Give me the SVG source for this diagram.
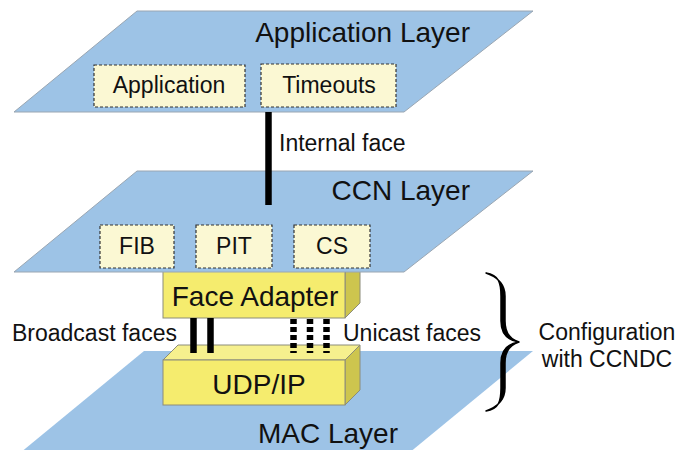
<svg xmlns="http://www.w3.org/2000/svg" width="678" height="450" viewBox="0 0 678 450">
<style>
  .layer { fill: #9dc3e6; stroke: #9aa6b2; stroke-width: 1; }
  .mac { fill: #9dc3e6; stroke: none; }
  .comp { fill: #fbf8d3; stroke: #333; stroke-width: 1.2; stroke-dasharray: 3 2; }
  .front { fill: #f5ec6e; stroke: #8c8c7a; stroke-width: 1; }
  .side { fill: #cdc54e; stroke: #8c8c7a; stroke-width: 1; }
  .top { fill: #f6f08e; stroke: #8c8c7a; stroke-width: 1; }
  text { font-family: "Liberation Sans", Arial, sans-serif; fill: #111; }
  .title { font-size: 28px; }
  .lbl { font-size: 23px; text-anchor: middle; }
  .note { font-size: 23px; }
  .solid { stroke: #000; stroke-width: 6.5; fill: none; }
  .dashed { stroke: #000; stroke-width: 6.5; fill: none; stroke-dasharray: 5 3; }
</style>

<g id="mac-layer">
  <polygon class="mac" points="144,351 533,351 409,453 20,453"/>
  <text class="title" x="328" y="443" text-anchor="middle">MAC Layer</text>
</g>

<g id="udp-ip">
  <polygon class="top" points="163,360 178,345 360,345 345,360"/>
  <polygon class="side" points="345,360 360,345 360,390 345,405"/>
  <rect class="front" x="163" y="360" width="182" height="45"/>
  <text class="title" x="259" y="394" text-anchor="middle">UDP/IP</text>
</g>

<g id="face-adapter">
  <polygon class="side" points="345,273 360,258 360,303 345,318"/>
  <rect class="front" x="163" y="260" width="182" height="58"/>
  <text class="title" x="255" y="306" text-anchor="middle">Face Adapter</text>
</g>

<g id="application-layer">
  <polygon class="layer" points="137,11 533,11 404,112 14,112"/>
  <text class="title" x="470" y="42" text-anchor="end">Application Layer</text>
</g>
<g id="application">
  <rect class="comp" x="94" y="65" width="151" height="42"/>
  <text class="lbl" x="169" y="93">Application</text>
</g>
<g id="timeouts">
  <rect class="comp" x="261" y="64" width="135" height="43"/>
  <text class="lbl" x="329" y="93">Timeouts</text>
</g>

<g id="ccn-layer">
  <polygon class="layer" points="137,171 533,171 404,272 14,272"/>
  <text class="title" x="470" y="200" text-anchor="end">CCN Layer</text>
</g>
<g id="fib">
  <rect class="comp" x="100" y="225" width="74" height="43"/>
  <text class="lbl" x="137" y="254">FIB</text>
</g>
<g id="pit">
  <rect class="comp" x="196" y="225" width="76" height="43"/>
  <text class="lbl" x="234" y="254">PIT</text>
</g>
<g id="cs">
  <rect class="comp" x="294" y="225" width="76" height="43"/>
  <text class="lbl" x="332" y="254">CS</text>
</g>

<g id="connectors">
  <line class="solid" x1="268.5" y1="112" x2="268.5" y2="205"/>
  <line class="solid" x1="193.5" y1="318" x2="193.5" y2="353"/>
  <line class="solid" x1="210.5" y1="318" x2="210.5" y2="353"/>
  <line class="dashed" x1="293.5" y1="319" x2="293.5" y2="353"/>
  <line class="dashed" x1="310" y1="319" x2="310" y2="353"/>
  <line class="dashed" x1="326.5" y1="319" x2="326.5" y2="353"/>
</g>

<g id="labels">
  <text class="note" x="279" y="151">Internal face</text>
  <text class="note" x="12" y="341">Broadcast faces</text>
  <text class="note" x="343" y="341">Unicast faces</text>
</g>

<g id="configuration">
  <path d="M486,273 C499,275 501,283 501,296 L501,321 C501,333 506,340 519,342 C506,344 501,351 501,363 L501,388 C501,401 499,409 486,411 C497,407 505,401 505,388 L505,363 C505,352 509,345 519,342 C509,339 505,332 505,321 L505,296 C505,283 497,277 486,273 Z" fill="#000" stroke="#000" stroke-width="1.5" stroke-linejoin="round"/>
  <text class="note" x="607" y="340" text-anchor="middle">Configuration</text>
  <text class="note" x="607" y="367" text-anchor="middle">with CCNDC</text>
</g>
</svg>
